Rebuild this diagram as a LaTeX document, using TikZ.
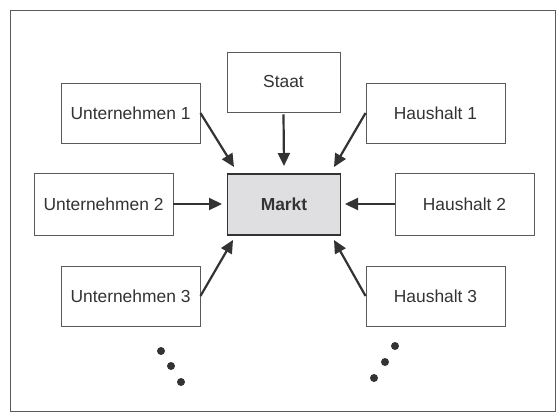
\documentclass[tikz,border=0pt]{standalone}
\usepackage{fontspec}
\setmainfont{Liberation Sans}
\usetikzlibrary{arrows.meta}
\definecolor{txt}{HTML}{333333}
\definecolor{bord}{HTML}{5A5A5A}
\definecolor{arr}{HTML}{333333}
\definecolor{mfill}{HTML}{DFDFE1}
\begin{document}
\begin{tikzpicture}[x=1pt,y=-1pt,
  box/.style={draw=bord,line width=0.9pt,fill=white,minimum width=139pt,minimum height=60pt,inner sep=0pt,text=txt,font=\fontsize{17.4}{20}\selectfont},
  mbox/.style={draw=arr,line width=1.5pt,fill=mfill,minimum width=113pt,minimum height=61pt,inner sep=0pt,text=txt,font=\fontsize{17.4}{20}\selectfont\bfseries},
  conn/.style={draw=arr,line width=2.2pt,-{Triangle[length=13pt,width=12pt]}},
  dot/.style={circle,fill=arr,draw=none,minimum size=8pt,inner sep=0pt}]
\useasboundingbox (0,0) rectangle (557,413);
\draw[draw=bord,line width=0.9pt] (10,10) rectangle (555,411);
\node[box] (u1) at (130.5,113) {Unternehmen 1};
\node[box,minimum height=62pt] (u2) at (103.5,204) {Unternehmen 2};
\node[box] (u3) at (130.5,296) {Unternehmen 3};
\node[box,minimum width=113pt] (st) at (283.5,82) {Staat};
\node[mbox] (m) at (284,204.5) {Markt};
\node[box] (h1) at (435.5,113) {Haushalt 1};
\node[box,minimum height=62pt] (h2) at (464.5,204) {Haushalt 2};
\node[box] (h3) at (435.5,296) {Haushalt 3};
\coordinate (t1) at (234,167);
\coordinate (t3) at (233,240);
\coordinate (th1) at (334,167);
\coordinate (th3) at (334,240);
\coordinate (tu2) at (222,204);
\coordinate (th2) at (345,204);
\coordinate (tst) at (284,166);
\draw[conn] (u1.east) -- (t1);
\draw[conn] (u2.east) -- (tu2);
\draw[conn] (u3.east) -- (t3);
\draw[conn] (st.south) ++(0,2) -- (tst);
\draw[conn] (h1.west) -- (th1);
\draw[conn] (h2.west) -- (th2);
\draw[conn] (h3.west) -- (th3);
\node[dot] (dl1) at (161,351) {};
\node[dot] (dl2) at (171,366) {};
\node[dot] (dl3) at (181,382) {};
\node[dot] (dr1) at (395,346) {};
\node[dot] (dr2) at (385,362) {};
\node[dot] (dr3) at (374,378) {};
\end{tikzpicture}
\end{document}
